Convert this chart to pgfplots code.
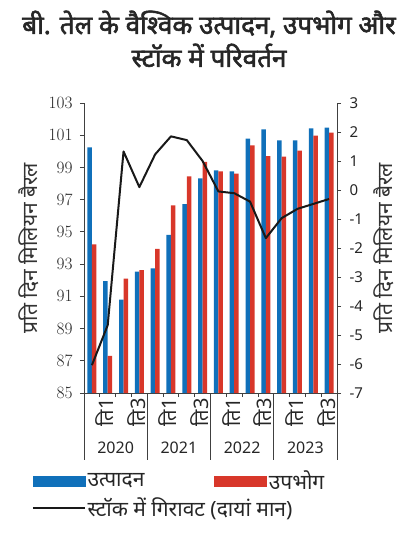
\documentclass[border=0pt]{standalone}
\usepackage{fontspec}
\setmainfont{Noto Sans}[Script=Devanagari]
\newfontfamily\titlefont{Noto Sans}[Script=Devanagari, FakeBold=2.2]
\usepackage{pgfplots}
\usepackage{pgfplotstable}
\pgfplotsset{compat=1.18}

\definecolor{prodblue}{HTML}{1070BA}
\definecolor{consred}{HTML}{D8372A}
\definecolor{axisgray}{HTML}{404040}

% quarter index (2020 Q1 = 0), production, consumption (mb/d), stock draw (right scale)
\pgfplotstableread{
q  prod    cons    stock
0  100.25  94.23  -6.04
1  91.95   87.30  -4.66
2  90.80   92.10   1.33
3  92.53   92.63   0.10
4  92.74   93.94   1.23
5  94.81   96.65   1.85
6  96.73   98.45   1.72
7  98.32   99.34   1.00
8  98.82   98.76  -0.05
9  98.76   98.61  -0.11
10 100.79  100.37 -0.40
11 101.37  99.71  -1.66
12 100.68  99.67  -0.97
13 100.68  100.04 -0.65
14 101.43  100.97 -0.48
15 101.47  101.16 -0.31
}\oildata

\begin{document}
\begin{tikzpicture}
\useasboundingbox (0pt,0pt) rectangle (416pt,-534pt);

\node[font=\titlefont\fontsize{26}{33}\selectfont, align=center, text=black!85] at (209pt,-39pt)
  {बी. तेल के वैश्विक उत्पादन, उपभोग और\\स्टॉक में परिवर्तन};

\begin{axis}[
  name=main,
  at={(84pt,-393pt)}, anchor=south west,
  scale only axis, width=253pt, height=290pt,
  xmin=-0.5, xmax=15.5, ymin=85, ymax=103,
  axis x line*=bottom, axis y line*=left,
  axis line style={axisgray, line width=1pt},
  tick align=outside,
  tick style={axisgray, line width=0.8pt},
  major tick length=4pt, minor tick length=4pt,
  ytick={85,87,...,103},
  yticklabel style={font=\fontsize{17}{17}\selectfont, text=black!85, xshift=-4pt},
  xtick={0,2,...,14},
  xticklabels={ति1,ति3,ति1,ति3,ति1,ति3,ति1,ति3},
  major x tick style={draw=none},
  minor xtick={-0.5,0.5,...,15.5},
  x tick label style={rotate=90, anchor=east, font=\fontsize{20}{20}\selectfont, text=black!85, inner sep=1pt, yshift=-13pt},
  ylabel={प्रति दिन मिलियन बैरल},
  ylabel style={at={(axis description cs:-0.217,0.5)}, anchor=center, font=\fontsize{21}{21}\selectfont, text=black!80},
  ybar=0pt, bar width=4.5pt,
  clip mode=individual,
]
\addplot[fill=prodblue, draw=none] table[x=q, y=prod] {\oildata};
\addplot[fill=consred, draw=none] table[x=q, y=cons] {\oildata};
% year separators and year labels beneath the quarter labels
\draw[axisgray, line width=1pt] (axis cs:-0.5,85) -- ++(0pt,-67pt);
\draw[axisgray, line width=1pt] (axis cs:3.5,85) -- ++(0pt,-67pt);
\draw[axisgray, line width=1pt] (axis cs:7.5,85) -- ++(0pt,-67pt);
\draw[axisgray, line width=1pt] (axis cs:11.5,85) -- ++(0pt,-67pt);
\draw[axisgray, line width=1pt] (axis cs:15.5,85) -- ++(0pt,-67pt);
\node[font=\fontsize{16}{16}\selectfont, text=black!85, yshift=-55pt] at (axis cs:1.5,85) {2020};
\node[font=\fontsize{16}{16}\selectfont, text=black!85, yshift=-55pt] at (axis cs:5.5,85) {2021};
\node[font=\fontsize{16}{16}\selectfont, text=black!85, yshift=-55pt] at (axis cs:9.5,85) {2022};
\node[font=\fontsize{16}{16}\selectfont, text=black!85, yshift=-55pt] at (axis cs:13.5,85) {2023};
\end{axis}

\begin{axis}[
  at={(84pt,-393pt)}, anchor=south west,
  scale only axis, width=253pt, height=290pt,
  xmin=-0.5, xmax=15.5, ymin=-7, ymax=3,
  axis x line=none, axis y line*=right,
  axis line style={axisgray, line width=1pt},
  tick align=outside,
  tick style={axisgray, line width=0.8pt},
  major tick length=4pt,
  ytick={-7,-6,...,3},
  /pgf/number format/assume math mode=true,
  yticklabel style={font=\fontsize{15}{15}\selectfont, text=black!85, xshift=5pt},
  ylabel={प्रति दिन मिलियन बैरल},
  ylabel style={at={(axis description cs:1.186,0.5)}, anchor=center, rotate=0, font=\fontsize{21}{21}\selectfont, text=black!80},
  legend columns=2,
  legend style={at={(-0.2055,-0.26)}, anchor=north west, draw=none, fill=none,
    inner sep=0pt, font=\fontsize{21}{21}\selectfont, text=black!85,
    row sep=3pt,
    /tikz/every even column/.append style={column sep=68pt}},
  legend cell align=left,
]
\addlegendimage{legend image code/.code={\fill[prodblue] (0pt,-5pt) rectangle (52pt,5pt);}}
\addlegendentry{उत्पादन}
\addlegendimage{legend image code/.code={\fill[consred] (0pt,-5pt) rectangle (52pt,5pt);}}
\addlegendentry{उपभोग}
\addplot[black!90, line width=2pt, line join=round,
  legend image code/.code={\draw[black!90, line width=1.5pt] (0pt,0pt) -- (52pt,0pt);}]
  table[x=q, y=stock] {\oildata};
\addlegendentry{\rlap{स्टॉक में गिरावट (दायां मान)}}
\end{axis}
\end{tikzpicture}
\end{document}
